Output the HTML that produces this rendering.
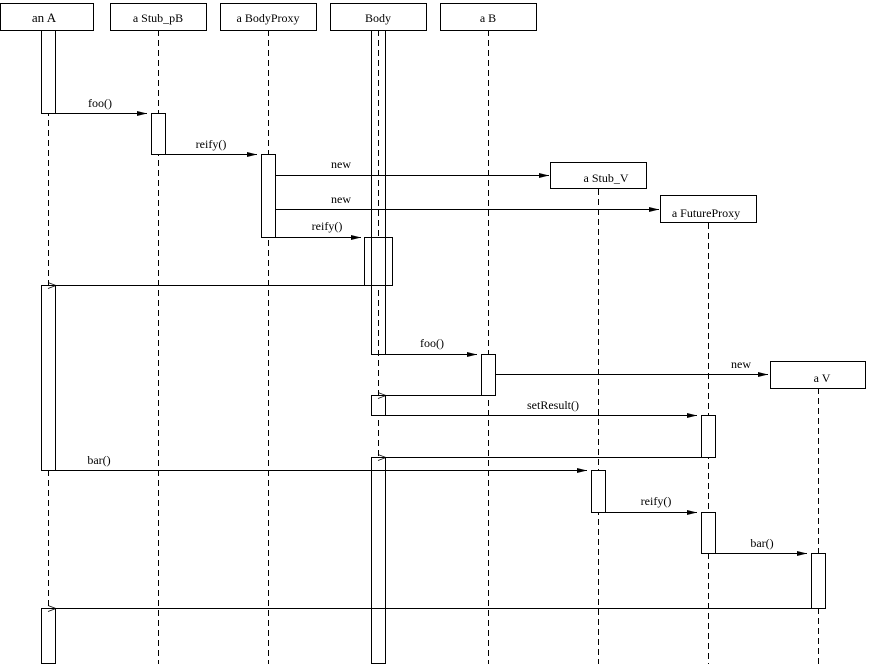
<!DOCTYPE html>
<html><head><meta charset="utf-8"><style>
html,body{margin:0;padding:0;background:#fff;}
svg{display:block;}
text{font-family:"Liberation Serif",serif;font-size:12px;fill:#000;}
.h{font-size:13px;}
</style></head><body>
<svg width="871" height="664" viewBox="0 0 871 664" xmlns="http://www.w3.org/2000/svg">
<defs>
<marker id="f" markerWidth="10" markerHeight="6" refX="10" refY="3" orient="auto" markerUnits="userSpaceOnUse"><path d="M0,0.5 L10,3 L0,5.5 Z" fill="#000"/></marker>
<marker id="o" markerWidth="10" markerHeight="8" refX="1" refY="4" orient="auto" markerUnits="userSpaceOnUse"><path d="M9,1 L1,4 L9,7" fill="none" stroke="#000" stroke-width="0.8"/></marker>
</defs>
<g stroke="#000" stroke-width="1" stroke-dasharray="6,4" fill="none">
<line x1="48.5" y1="30" x2="48.5" y2="664"/>
<line x1="158.5" y1="30" x2="158.5" y2="664"/>
<line x1="268.5" y1="30" x2="268.5" y2="664"/>
<line x1="378.5" y1="30" x2="378.5" y2="664"/>
<line x1="488.5" y1="30" x2="488.5" y2="664"/>
<line x1="598.5" y1="189" x2="598.5" y2="664"/>
<line x1="708.5" y1="223" x2="708.5" y2="664"/>
<line x1="818.5" y1="388" x2="818.5" y2="664"/>
</g>
<g stroke="#000" stroke-width="1" fill="#fff">
<rect x="0.5" y="3.5" width="93" height="27"/>
<rect x="110.5" y="3.5" width="96" height="27"/>
<rect x="220.5" y="3.5" width="96" height="27"/>
<rect x="330.5" y="3.5" width="96" height="27"/>
<rect x="440.5" y="3.5" width="96" height="27"/>
<rect x="550.5" y="162.5" width="96" height="26"/>
<rect x="660.5" y="195.5" width="96" height="27"/>
<rect x="770.5" y="361.5" width="95" height="27"/>
<rect x="41.5" y="30.5" width="14" height="83"/>
<rect x="151.5" y="113.5" width="14" height="41"/>
<rect x="261.5" y="154.5" width="14" height="83"/>
<rect x="364.5" y="237.5" width="28" height="48"/>
<rect x="371.5" y="30.5" width="14" height="324" fill="none"/>
<rect x="41.5" y="285.5" width="14" height="185"/>
<rect x="481.5" y="354.5" width="14" height="41"/>
<rect x="371.5" y="395.5" width="14" height="20"/>
<rect x="701.5" y="415.5" width="14" height="42"/>
<rect x="371.5" y="457.5" width="14" height="206"/>
<rect x="591.5" y="470.5" width="14" height="42"/>
<rect x="701.5" y="512.5" width="14" height="41"/>
<rect x="811.5" y="553.5" width="14" height="55"/>
<rect x="41.5" y="608.5" width="14" height="55"/>
</g>
<line x1="371.5" y1="237" x2="371.5" y2="286" stroke="#000"/>
<line x1="385.5" y1="237" x2="385.5" y2="286" stroke="#000"/>
<g stroke="#000" stroke-width="1" fill="none">
<line x1="55" y1="113.5" x2="147" y2="113.5" marker-end="url(#f)"/>
<line x1="165" y1="154.5" x2="257" y2="154.5" marker-end="url(#f)"/>
<line x1="275" y1="175.5" x2="549" y2="175.5" marker-end="url(#f)"/>
<line x1="275" y1="209.5" x2="659" y2="209.5" marker-end="url(#f)"/>
<line x1="275" y1="237.5" x2="361" y2="237.5" marker-end="url(#f)"/>
<line x1="364" y1="285.5" x2="56" y2="285.5" marker-end="url(#o)"/>
<line x1="385" y1="354.5" x2="477" y2="354.5" marker-end="url(#f)"/>
<line x1="495" y1="374.5" x2="768" y2="374.5" marker-end="url(#f)"/>
<line x1="481" y1="395.5" x2="386" y2="395.5" marker-end="url(#o)"/>
<line x1="385" y1="415.5" x2="697" y2="415.5" marker-end="url(#f)"/>
<line x1="701" y1="457.5" x2="386" y2="457.5" marker-end="url(#o)"/>
<line x1="55" y1="470.5" x2="587" y2="470.5" marker-end="url(#f)"/>
<line x1="605" y1="512.5" x2="697" y2="512.5" marker-end="url(#f)"/>
<line x1="715" y1="553.5" x2="807" y2="553.5" marker-end="url(#f)"/>
<line x1="811" y1="608.5" x2="56" y2="608.5" marker-end="url(#o)"/>
</g>
<g text-anchor="middle">
<text class="h" x="44" y="22">an A</text>
<text x="158" y="22">a Stub_pB</text>
<text x="268" y="22">a  BodyProxy</text>
<text x="378" y="22">Body</text>
<text x="488" y="22">a B</text>
<text x="606" y="182">a Stub_V</text>
<text x="706" y="217">a  FutureProxy</text>
<text x="822" y="382">a V</text>
<text x="100" y="107">foo()</text>
<text x="211" y="148">reify()</text>
<text x="341" y="168">new</text>
<text x="341" y="203">new</text>
<text x="327" y="230">reify()</text>
<text x="432" y="347">foo()</text>
<text x="741" y="368">new</text>
<text x="553" y="409">setResult()</text>
<text x="99" y="464">bar()</text>
<text x="656" y="505">reify()</text>
<text x="762" y="547">bar()</text>
</g>
</svg>
</body></html>
